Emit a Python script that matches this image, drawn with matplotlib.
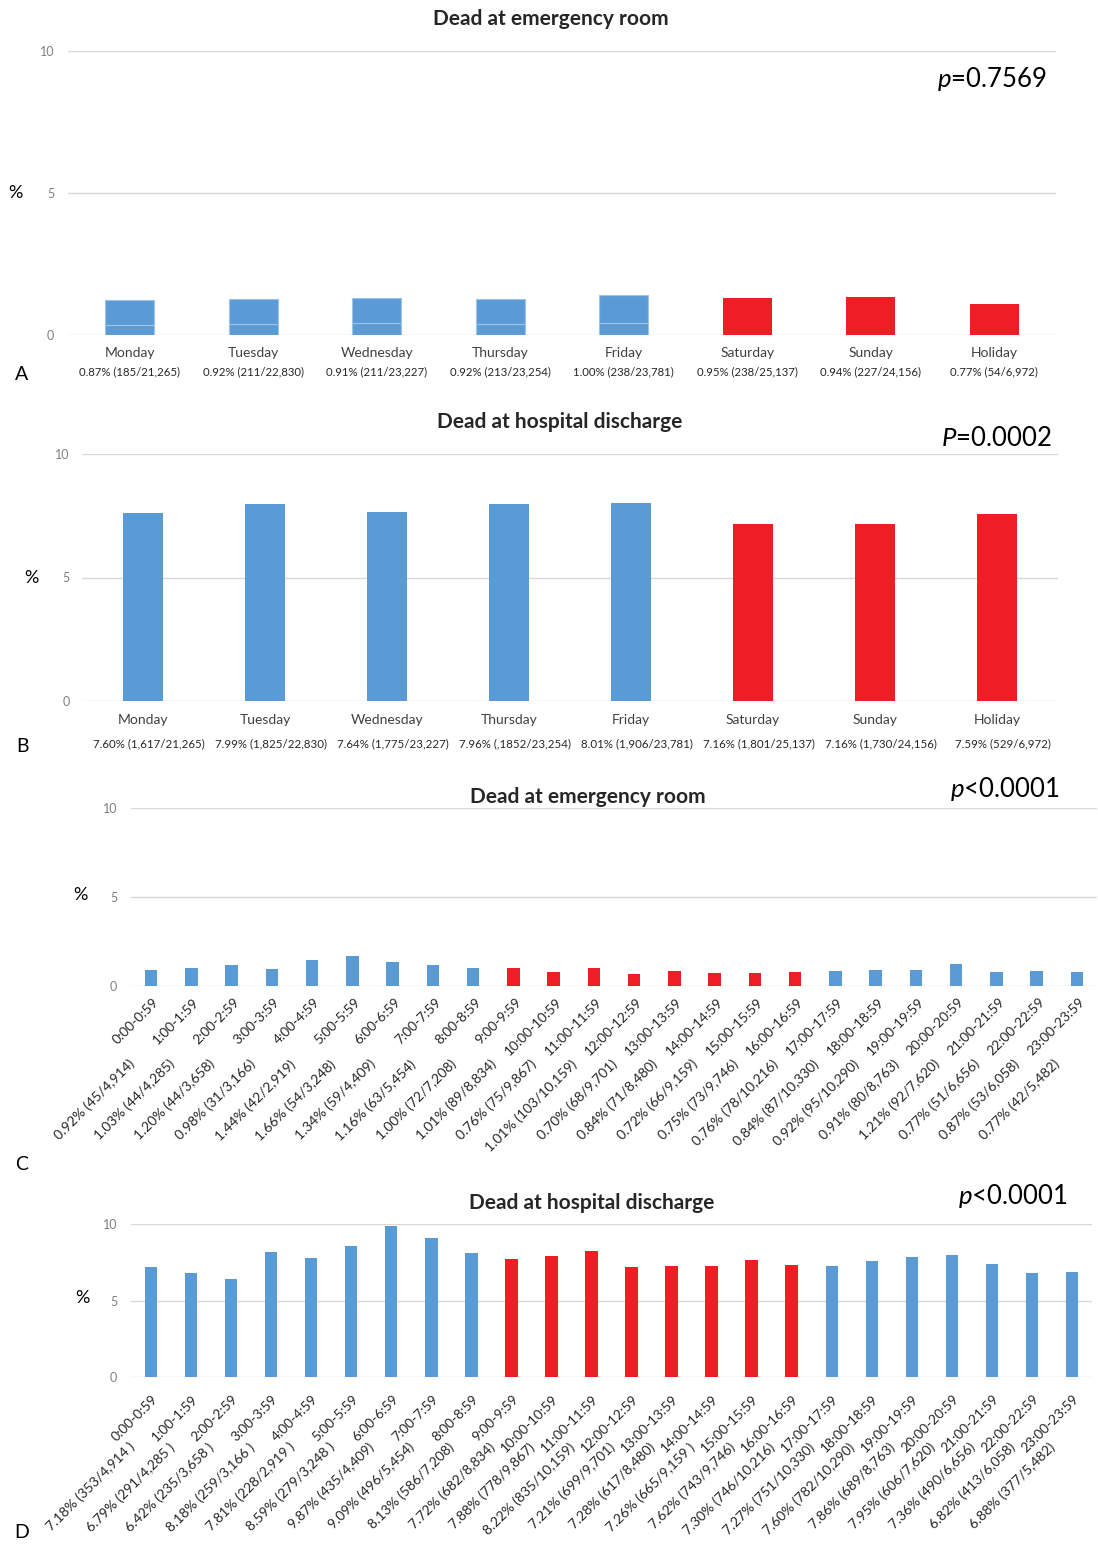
import numpy as np
import matplotlib
matplotlib.use('Agg')
import matplotlib.pyplot as plt

plt.rcParams['font.family'] = ['Lato', 'DejaVu Sans']
plt.rcParams['mathtext.fontset'] = 'custom'
plt.rcParams['mathtext.it'] = 'Lato:italic'
plt.rcParams['mathtext.rm'] = 'Lato'

# data
days = ['Monday', 'Tuesday', 'Wednesday', 'Thursday', 'Friday', 'Saturday', 'Sunday', 'Holiday']
a_vals = [1.22, 1.28, 1.31, 1.27, 1.40, 1.30, 1.34, 1.09]
a_low = [0.34, 0.38, 0.41, 0.37, 0.41, 0, 0, 0]
a_labels = ['0.87% (185/21,265)', '0.92% (211/22,830)', '0.91% (211/23,227)', '0.92% (213/23,254)',
            '1.00% (238/23,781)', '0.95% (238/25,137)', '0.94% (227/24,156)', '0.77% (54/6,972)']
b_vals = [7.60, 7.99, 7.64, 7.96, 8.01, 7.16, 7.16, 7.59]
b_labels = ['7.60% (1,617/21,265)', '7.99% (1,825/22,830)', '7.64% (1,775/23,227)', '7.96% (,1852/23,254)',
            '8.01% (1,906/23,781)', '7.16% (1,801/25,137)', '7.16% (1,730/24,156)', '7.59% (529/6,972)']
day_red = [False, False, False, False, False, True, True, True]

hours = ['%d:00-%d:59' % (h, h) for h in range(24)]
c_vals = [0.92, 1.03, 1.20, 0.98, 1.44, 1.66, 1.34, 1.16, 1.00, 1.01, 0.76, 1.01,
          0.70, 0.84, 0.72, 0.75, 0.76, 0.84, 0.92, 0.91, 1.21, 0.77, 0.87, 0.77]
c_labels = ['0.92% (45/4,914)', '1.03% (44/4,285)', '1.20% (44/3,658)', '0.98% (31/3,166)',
            '1.44% (42/2,919)', '1.66% (54/3,248)', '1.34% (59/4,409)', '1.16% (63/5,454)',
            '1.00% (72/7,208)', '1.01% (89/8,834)', '0.76% (75/9,867)', '1.01% (103/10,159)',
            '0.70% (68/9,701)', '0.84% (71/8,480)', '0.72% (66/9,159)', '0.75% (73/9,746)',
            '0.76% (78/10,216)', '0.84% (87/10,330)', '0.92% (95/10,290)', '0.91% (80/8,763)',
            '1.21% (92/7,620)', '0.77% (51/6,656)', '0.87% (53/6,058)', '0.77% (42/5,482)']
d_vals = [7.18, 6.79, 6.42, 8.18, 7.81, 8.59, 9.87, 9.09, 8.13, 7.72, 7.88, 8.22,
          7.21, 7.28, 7.26, 7.62, 7.30, 7.27, 7.60, 7.86, 7.95, 7.36, 6.82, 6.88]
d_labels = ['7.18% (353/4,914 )', '6.79% (291/4,285 )', '6.42% (235/3,658 )', '8.18% (259/3,166 )',
            '7.81% (228/2,919 )', '8.59% (279/3,248 )', '9.87% (435/4,409)', '9.09% (496/5,454)',
            '8.13% (586/7,208)', '7.72% (682/8,834)', '7.88% (778/9,867)', '8.22% (835/10,159)',
            '7.21% (699/9,701)', '7.28% (617/8,480)', '7.26% (665/9,159 )', '7.62% (743/9,746)',
            '7.30% (746/10,216)', '7.27% (751/10,330)', '7.60% (782/10,290)', '7.86% (689/8,763)',
            '7.95% (606/7,620)', '7.36% (490/6,656)', '6.82% (413/6,058)', '6.88% (377/5,482)']
hour_red = [9 <= h <= 16 for h in range(24)]

BLUE = '#5B9BD5'
RED = '#ED1F24'
GRID = '#D9D9D9'
W, H = 1098, 1545

fig = plt.figure(figsize=(W / 100, H / 100), dpi=100)


def rect(l, t, r, b):
    return [l / W, 1 - b / H, (r - l) / W, (b - t) / H]


def ftext(x, y, s, **kw):
    fig.text(x / W, 1 - y / H, s, ha='center', va='center', **kw)


def setup(ax, n, pad):
    ax.set_xlim(-0.5, n - 0.5)
    ax.set_ylim(0, 10)
    ax.set_yticks([0, 5, 10])
    ax.set_xticks([])
    ax.yaxis.grid(True, color=GRID, lw=1)
    ax.set_axisbelow(True)
    for s in ax.spines.values():
        s.set_visible(False)
    ax.tick_params(length=0, labelsize=9, labelcolor='#808080', pad=pad)


# ---- A
axA = fig.add_axes(rect(68, 51, 1056, 335))
setup(axA, 8, 10)
x = np.arange(8)
colsA = [RED if r else BLUE for r in day_red]
upper = [v - lo for v, lo in zip(a_vals, a_low)]
for i in range(8):
    if day_red[i]:
        axA.bar(x[i], a_vals[i], 0.4, color=RED)
    else:
        axA.bar(x[i], a_low[i], 0.4, color=BLUE, edgecolor='#9DC3E6', lw=0.8)
        axA.bar(x[i], upper[i], 0.4, bottom=a_low[i], color=BLUE, edgecolor='#9DC3E6', lw=0.8)
for i in range(8):
    axA.text(x[i], -18 / 284, days[i], transform=axA.get_xaxis_transform(),
             ha='center', va='center', fontsize=10, color='#404040')
    axA.text(x[i], -37 / 284, a_labels[i], transform=axA.get_xaxis_transform(),
             ha='center', va='center', fontsize=8.2, color='#262626')
ftext(551, 19, 'Dead at emergency room', fontsize=15, fontweight='bold', color='#262626')
ftext(992, 79, r'$\mathit{p}$=0.7569', fontsize=18.5)
ftext(15, 193, '%', fontsize=13)
ftext(22, 375, 'A', fontsize=14)

# ---- B
axB = fig.add_axes(rect(82, 454, 1058, 701))
setup(axB, 8, 9)
axB.bar(x, b_vals, 0.32, color=colsA)
for i in range(8):
    axB.text(x[i], -19 / 247, days[i], transform=axB.get_xaxis_transform(),
             ha='center', va='center', fontsize=10, color='#404040')
    axB.text(x[i] + 0.05, -43 / 247, b_labels[i], transform=axB.get_xaxis_transform(),
             ha='center', va='center', fontsize=8.3, color='#262626')
ftext(560, 422, 'Dead at hospital discharge', fontsize=15, fontweight='bold', color='#262626')
ftext(996, 439, r'$\mathit{P}$=0.0002', fontsize=18.5)
ftext(31, 578, '%', fontsize=13)
ftext(22, 747, 'B', fontsize=14)

# ---- C
xh = np.arange(24)
colsH = [RED if r else BLUE for r in hour_red]
axC = fig.add_axes(rect(131, 808, 1097, 986))
setup(axC, 24, 10)
axC.bar(xh, c_vals, 0.31, color=colsH)
for i in range(24):
    axC.text(xh[i] + 0.15, -14 / 178, hours[i], transform=axC.get_xaxis_transform(),
             rotation=45, rotation_mode='anchor', ha='right', va='center', fontsize=9.8, color='#262626')
    axC.text(xh[i] - 0.47, -76 / 178, c_labels[i], transform=axC.get_xaxis_transform(),
             rotation=45, rotation_mode='anchor', ha='right', va='center', fontsize=10, color='#262626')
ftext(588, 797, 'Dead at emergency room', fontsize=15, fontweight='bold', color='#262626')
ftext(1005, 789, r'$\mathit{p}$<0.0001', fontsize=18.5)
ftext(80, 895, '%', fontsize=13)
ftext(22, 1165, 'C', fontsize=14)

# ---- D
axD = fig.add_axes(rect(131, 1224, 1092, 1377))
setup(axD, 24, 10)
axD.bar(xh, d_vals, 0.31, color=colsH)
for i in range(24):
    axD.text(xh[i] + 0.12, -20 / 153, hours[i], transform=axD.get_xaxis_transform(),
             rotation=45, rotation_mode='anchor', ha='right', va='center', fontsize=9.8, color='#262626')
    axD.text(xh[i] - 0.47, -68 / 153, d_labels[i], transform=axD.get_xaxis_transform(),
             rotation=45, rotation_mode='anchor', ha='right', va='center', fontsize=10, color='#262626')
ftext(592, 1203, 'Dead at hospital discharge', fontsize=15, fontweight='bold', color='#262626')
ftext(1013, 1196, r'$\mathit{p}$<0.0001', fontsize=18.5)
ftext(82, 1298, '%', fontsize=13)
ftext(22, 1532, 'D', fontsize=14)

fig.savefig('out.png', dpi=100)
